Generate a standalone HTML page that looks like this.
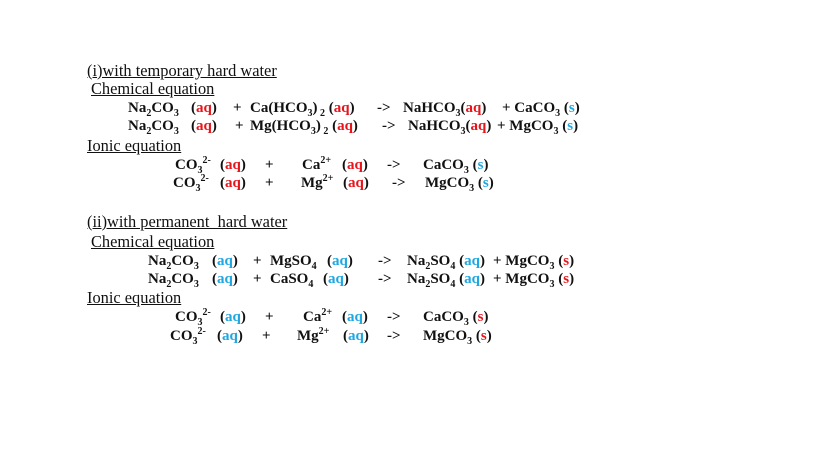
<!DOCTYPE html>
<html><head><meta charset="utf-8"><style>
body{margin:0;width:819px;height:460px;background:#fff;position:relative;overflow:hidden;font-family:"Liberation Serif",serif;font-size:15px;color:#111}
span.t{position:absolute;line-height:15px;white-space:nowrap}
.b{font-weight:bold}
.u{text-decoration:underline;font-size:16.4px}
.r{color:#e8141b}.c{color:#1ea7e1}
sub,sup{font-size:10px;line-height:0}
</style></head><body>
<span class="t u" style="left:87px;top:63px">(i)with temporary hard water</span>
<span class="t u" style="left:91px;top:81px">Chemical equation</span>
<span class="t b" style="left:128px;top:101px">Na<sub>2</sub>CO<sub>3</sub></span>
<span class="t b" style="left:191px;top:101px">(<span class="r">aq</span>)</span>
<span class="t b" style="left:233px;top:101px">+</span>
<span class="t b" style="left:250px;top:101px">Ca(HCO<sub>3</sub>)<sub> 2</sub> (<span class="r">aq</span>)</span>
<span class="t b" style="left:377px;top:101px">-&gt;</span>
<span class="t b" style="left:403px;top:101px">NaHCO<sub>3</sub>(<span class="r">aq</span>)</span>
<span class="t b" style="left:502px;top:101px">+ CaCO<sub>3</sub> (<span class="c">s</span>)</span>
<span class="t b" style="left:128px;top:119px">Na<sub>2</sub>CO<sub>3</sub></span>
<span class="t b" style="left:191px;top:119px">(<span class="r">aq</span>)</span>
<span class="t b" style="left:235px;top:119px">+</span>
<span class="t b" style="left:250px;top:119px">Mg(HCO<sub>3</sub>)<sub> 2</sub> (<span class="r">aq</span>)</span>
<span class="t b" style="left:382px;top:119px">-&gt;</span>
<span class="t b" style="left:408px;top:119px">NaHCO<sub>3</sub>(<span class="r">aq</span>)</span>
<span class="t b" style="left:497px;top:119px">+ MgCO<sub>3</sub> (<span class="c">s</span>)</span>
<span class="t u" style="left:87px;top:138px">Ionic equation</span>
<span class="t b" style="left:175px;top:158px">CO<sub>3</sub><sup>2-</sup></span>
<span class="t b" style="left:220px;top:158px">(<span class="r">aq</span>)</span>
<span class="t b" style="left:265px;top:158px">+</span>
<span class="t b" style="left:302px;top:158px">Ca<sup>2+</sup></span>
<span class="t b" style="left:342px;top:158px">(<span class="r">aq</span>)</span>
<span class="t b" style="left:387px;top:158px">-&gt;</span>
<span class="t b" style="left:423px;top:158px">CaCO<sub>3</sub> (<span class="c">s</span>)</span>
<span class="t b" style="left:173px;top:176px">CO<sub>3</sub><sup>2-</sup></span>
<span class="t b" style="left:220px;top:176px">(<span class="r">aq</span>)</span>
<span class="t b" style="left:265px;top:176px">+</span>
<span class="t b" style="left:301px;top:176px">Mg<sup>2+</sup></span>
<span class="t b" style="left:343px;top:176px">(<span class="r">aq</span>)</span>
<span class="t b" style="left:392px;top:176px">-&gt;</span>
<span class="t b" style="left:425px;top:176px">MgCO<sub>3</sub> (<span class="c">s</span>)</span>

<span class="t u" style="left:87px;top:214px">(ii)with permanent &nbsp;hard water</span>
<span class="t u" style="left:91px;top:234px">Chemical equation</span>
<span class="t b" style="left:148px;top:254px">Na<sub>2</sub>CO<sub>3</sub></span>
<span class="t b" style="left:212px;top:254px">(<span class="c">aq</span>)</span>
<span class="t b" style="left:253px;top:254px">+</span>
<span class="t b" style="left:270px;top:254px">MgSO<sub>4</sub></span>
<span class="t b" style="left:327px;top:254px">(<span class="c">aq</span>)</span>
<span class="t b" style="left:378px;top:254px">-&gt;</span>
<span class="t b" style="left:407px;top:254px">Na<sub>2</sub>SO<sub>4</sub> (<span class="c">aq</span>)</span>
<span class="t b" style="left:493px;top:254px">+ MgCO<sub>3</sub> (<span class="r">s</span>)</span>
<span class="t b" style="left:148px;top:272px">Na<sub>2</sub>CO<sub>3</sub></span>
<span class="t b" style="left:212px;top:272px">(<span class="c">aq</span>)</span>
<span class="t b" style="left:253px;top:272px">+</span>
<span class="t b" style="left:270px;top:272px">CaSO<sub>4</sub></span>
<span class="t b" style="left:323px;top:272px">(<span class="c">aq</span>)</span>
<span class="t b" style="left:378px;top:272px">-&gt;</span>
<span class="t b" style="left:407px;top:272px">Na<sub>2</sub>SO<sub>4</sub> (<span class="c">aq</span>)</span>
<span class="t b" style="left:493px;top:272px">+ MgCO<sub>3</sub> (<span class="r">s</span>)</span>
<span class="t u" style="left:87px;top:290px">Ionic equation</span>
<span class="t b" style="left:175px;top:310px">CO<sub>3</sub><sup>2-</sup></span>
<span class="t b" style="left:220px;top:310px">(<span class="c">aq</span>)</span>
<span class="t b" style="left:265px;top:310px">+</span>
<span class="t b" style="left:303px;top:310px">Ca<sup>2+</sup></span>
<span class="t b" style="left:342px;top:310px">(<span class="c">aq</span>)</span>
<span class="t b" style="left:387px;top:310px">-&gt;</span>
<span class="t b" style="left:423px;top:310px">CaCO<sub>3</sub> (<span class="r">s</span>)</span>
<span class="t b" style="left:170px;top:329px">CO<sub>3</sub><sup>2-</sup></span>
<span class="t b" style="left:217px;top:329px">(<span class="c">aq</span>)</span>
<span class="t b" style="left:262px;top:329px">+</span>
<span class="t b" style="left:297px;top:329px">Mg<sup>2+</sup></span>
<span class="t b" style="left:343px;top:329px">(<span class="c">aq</span>)</span>
<span class="t b" style="left:387px;top:329px">-&gt;</span>
<span class="t b" style="left:423px;top:329px">MgCO<sub>3</sub> (<span class="r">s</span>)</span>
</body></html>
